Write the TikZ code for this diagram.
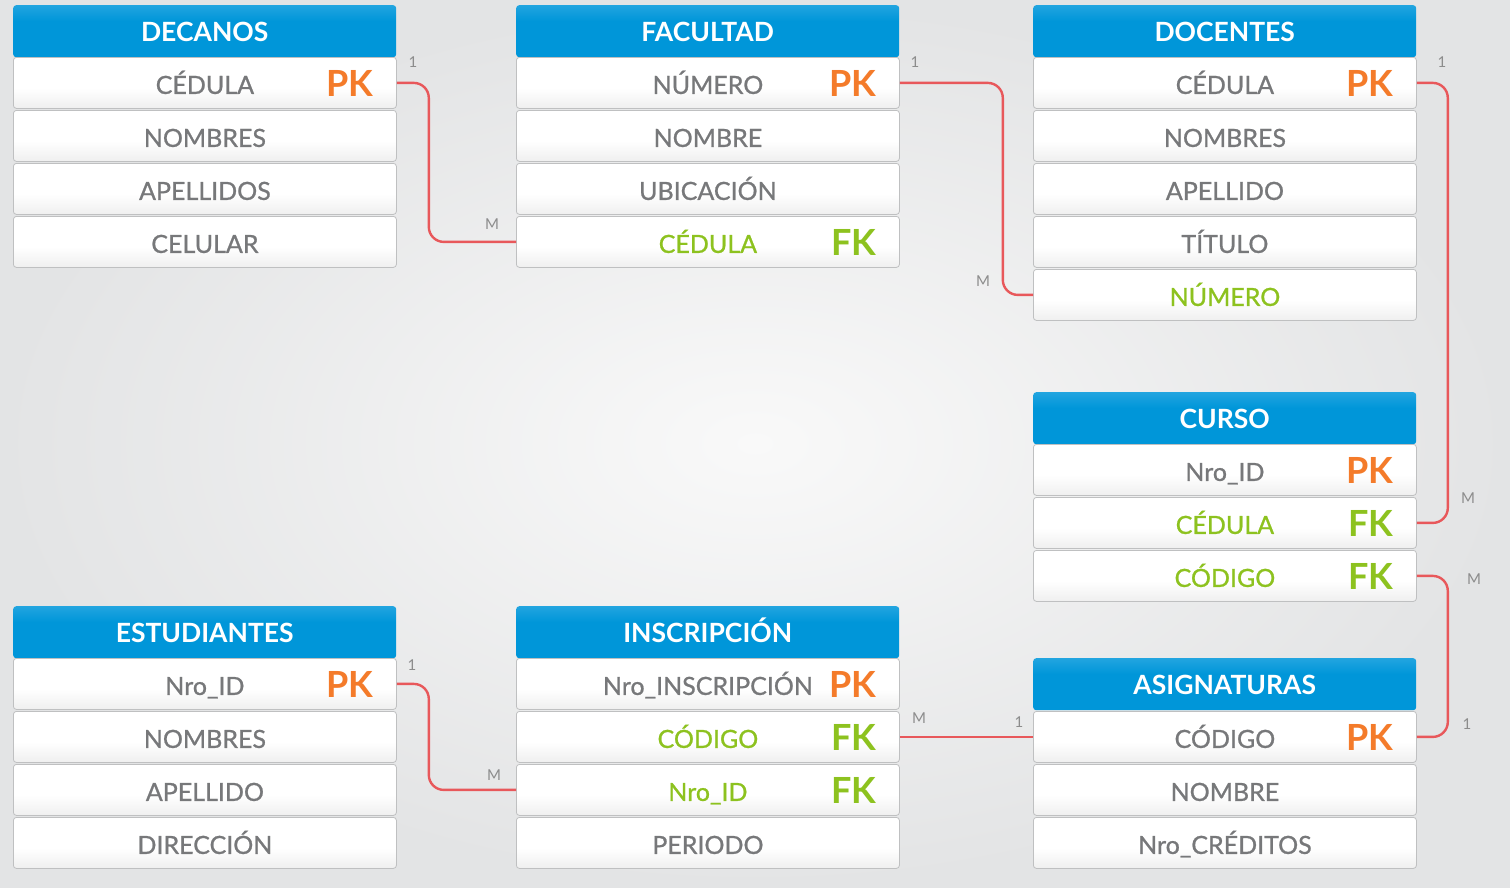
\documentclass[tikz,border=0pt]{standalone}
\usepackage{fontspec}
\setmainfont{Lato}
\newfontfamily\rowf{Lato}[FakeBold=0.9]
\definecolor{hdrB}{HTML}{0096D9}
\definecolor{hdrT}{HTML}{5ABDEB}
\definecolor{pkc}{HTML}{F47B2A}
\definecolor{fkc}{HTML}{8DC21F}
\definecolor{txtg}{HTML}{77787A}
\definecolor{relc}{HTML}{E8585B}
\definecolor{lblc}{HTML}{8C8C8C}
\definecolor{bgo}{HTML}{E3E4E5}
\definecolor{bgi}{HTML}{F9F9F9}
\definecolor{rowb}{HTML}{BFC0C1}
\definecolor{rowm}{HTML}{E6E6E6}
\pgfdeclareverticalshading{hdrsh}{100bp}{color(0bp)=(hdrB); color(60bp)=(hdrB); color(100bp)=(hdrT)}
\pgfdeclareverticalshading{rowsh}{100bp}{color(0bp)=(rowb); color(14bp)=(rowm); color(45bp)=(white); color(100bp)=(white)}
\tikzset{
  hdrbox/.style={anchor=north west, shade, shading=hdrsh, rounded corners=3, minimum width=383, minimum height=52, inner sep=0, text=white, font=\fontsize{26.5}{27}\selectfont\bfseries, text height=20, text depth=0},
  fldbox/.style={anchor=north west, shade, shading=rowsh, draw=rowb, line width=0.8, rounded corners=3, minimum width=383, minimum height=51, inner sep=0, font=\rowf\fontsize{25}{26}\selectfont, text height=22, text depth=0},
  keytxt/.style={anchor=east, inner sep=0, font=\fontsize{36}{36}\selectfont\bfseries, text height=27, text depth=0},
  rel/.style={draw=relc, line width=2.4, rounded corners=15},
  card/.style={inner sep=0, text=lblc, font=\fontsize{15}{15}\selectfont},
}
\newcommand\fld[5]{\node[fldbox, text=#5] (#1) at (#2,#3) {#4};}
\newcommand\keyk[3]{\node[keytxt, text=#3] (#1k) at ([xshift=-23]#1.east) {#2};}
\begin{document}
\begin{tikzpicture}[x=1pt,y=-1pt]
\useasboundingbox (0,0) rectangle (1510,887);
\shade[inner color=bgi, outer color=bgo] (0,0) rectangle (1510,887);

% DECANOS
\node[hdrbox] (dec) at (13,5) {DECANOS};
\fld{dec1}{13}{57}{CÉDULA}{txtg} \keyk{dec1}{PK}{pkc}
\fld{dec2}{13}{110}{NOMBRES}{txtg}
\fld{dec3}{13}{163}{APELLIDOS}{txtg}
\fld{dec4}{13}{216}{CELULAR}{txtg}

% FACULTAD
\node[hdrbox] (fac) at (516,5) {FACULTAD};
\fld{fac1}{516}{57}{NÚMERO}{txtg} \keyk{fac1}{PK}{pkc}
\fld{fac2}{516}{110}{NOMBRE}{txtg}
\fld{fac3}{516}{163}{UBICACIÓN}{txtg}
\fld{fac4}{516}{216}{CÉDULA}{fkc} \keyk{fac4}{FK}{fkc}

% DOCENTES
\node[hdrbox] (doc) at (1033,5) {DOCENTES};
\fld{doc1}{1033}{57}{CÉDULA}{txtg} \keyk{doc1}{PK}{pkc}
\fld{doc2}{1033}{110}{NOMBRES}{txtg}
\fld{doc3}{1033}{163}{APELLIDO}{txtg}
\fld{doc4}{1033}{216}{TÍTULO}{txtg}
\fld{doc5}{1033}{269}{NÚMERO}{fkc}

% CURSO
\node[hdrbox] (cur) at (1033,392) {CURSO};
\fld{cur1}{1033}{444}{Nro\_ID}{txtg} \keyk{cur1}{PK}{pkc}
\fld{cur2}{1033}{497}{CÉDULA}{fkc} \keyk{cur2}{FK}{fkc}
\fld{cur3}{1033}{550}{CÓDIGO}{fkc} \keyk{cur3}{FK}{fkc}

% ESTUDIANTES
\node[hdrbox] (est) at (13,606) {ESTUDIANTES};
\fld{est1}{13}{658}{Nro\_ID}{txtg} \keyk{est1}{PK}{pkc}
\fld{est2}{13}{711}{NOMBRES}{txtg}
\fld{est3}{13}{764}{APELLIDO}{txtg}
\fld{est4}{13}{817}{DIRECCIÓN}{txtg}

% INSCRIPCION
\node[hdrbox] (ins) at (516,606) {INSCRIPCIÓN};
\fld{ins1}{516}{658}{Nro\_INSCRIPCIÓN\hspace{92pt}}{txtg}
\node[keytxt, text=pkc] (ins1k) at ([xshift=-23]ins1.east) {PK};
\fld{ins2}{516}{711}{CÓDIGO}{fkc} \keyk{ins2}{FK}{fkc}
\fld{ins3}{516}{764}{Nro\_ID}{fkc} \keyk{ins3}{FK}{fkc}
\fld{ins4}{516}{817}{PERIODO}{txtg}

% ASIGNATURAS
\node[hdrbox] (asg) at (1033,658) {ASIGNATURAS};
\fld{asg1}{1033}{711}{CÓDIGO}{txtg} \keyk{asg1}{PK}{pkc}
\fld{asg2}{1033}{764}{NOMBRE}{txtg}
\fld{asg3}{1033}{817}{Nro\_CRÉDITOS}{txtg}

% relations
\draw[rel] (dec1.east) -- ++(32,0) |- (fac4.west);
\draw[rel] (fac1.east) -- ++(103,0) |- (doc5.west);
\draw[rel] (doc1.east) -- ++(31,0) |- (cur2.east);
\draw[rel] (cur3.east) -- ++(31,0) |- (asg1.east);
\draw[rel] (est1.east) -- ++(32,0) |- (ins3.west);
\draw[rel] (ins2.east) -- (asg1.west);

% cardinalities
\node[card] (c1a) at (413,62) {1};
\node[card] (c1b) at (492,224) {M};
\node[card] (c2a) at (915,62) {1};
\node[card] (c2b) at (983,281) {M};
\node[card] (c3a) at (1442,62) {1};
\node[card] (c3b) at (1468,498) {M};
\node[card] (c4a) at (1474,579) {M};
\node[card] (c4b) at (1467,724) {1};
\node[card] (c5a) at (412,665) {1};
\node[card] (c5b) at (494,775) {M};
\node[card] (c6a) at (919,718) {M};
\node[card] (c6b) at (1019,722) {1};
\end{tikzpicture}
\end{document}
